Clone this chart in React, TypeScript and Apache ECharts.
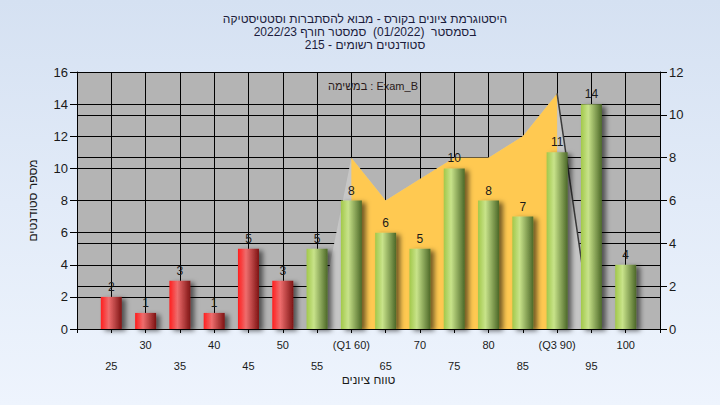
import React, { useEffect, useRef } from "react";
import * as echarts from "echarts";

// ---- data ----
const grades: number[] = [25, 30, 35, 40, 45, 50, 55, 60, 65, 70, 75, 80, 85, 90, 95, 100];
const gradeLabels: string[] = ["25", "30", "35", "40", "45", "50", "55", "(Q1 60)", "65", "70", "75", "80", "85", "(Q3 90)", "95", "100"];
const studentCounts: number[] = [2, 1, 3, 1, 5, 3, 5, 8, 6, 5, 10, 8, 7, 11, 14, 4];
// quartile band (right axis)
const bandValues: (number | null)[] = [null, null, null, null, null, null, null, 8, 6, 7, 8, 8, 9, 11, null, null];
const bandShadowValues: (number | null)[] = [null, null, null, null, null, null, 0, 8, 6, 7, 8, 8, 9, 11, 0, null];
const bandEdgeValues: (number | null)[] = [null, null, null, null, null, null, null, null, null, null, null, null, null, 11, 0, null];
const passGrade = 55;
const leftTicks = { min: 0, max: 16, interval: 2 };
const rightTicks = { min: 0, max: 12, interval: 2 };

const titleLines: string[] = [
  "היסטוגרמת ציונים בקורס - מבוא להסתברות וסטטיסטיקה",
  "בסמסטר  (01/2022)  סמסטר חורף 2022/23",
  "סטודנטים רשומים - 215",
];
const legendText = "במשימה : Exam_B";
const yAxisName = "מספר סטודנטים";
const xAxisName = "טווח ציונים";

const FONT = "'Liberation Sans', Arial, sans-serif";

export default function App() {
  const ref = useRef<HTMLDivElement>(null);
  useEffect(() => {
    if (!ref.current) return;
    document.body.style.margin = "0";
    const chart = echarts.init(ref.current, undefined, { renderer: "svg" });

    const cats = ["", ...grades.map(String), ""];
    const labelByCat: Record<string, string> = {};
    grades.forEach((g, i) => (labelByCat[String(g)] = gradeLabels[i]));
    const pad = (arr: (number | null)[]) => [null, ...arr, null];

    const red = new echarts.graphic.LinearGradient(0, 0, 1, 0, [
      { offset: 0, color: "#ff1e1e" },
      { offset: 0.38, color: "#ee6d6d" },
      { offset: 1, color: "#7e1414" },
    ]);
    const green = new echarts.graphic.LinearGradient(0, 0, 1, 0, [
      { offset: 0, color: "#a2c84a" },
      { offset: 0.35, color: "#c8e38a" },
      { offset: 1, color: "#4c6828" },
    ]);

    const barData: any[] = [null];
    grades.forEach((g, i) => {
      barData.push({
        value: studentCounts[i],
        itemStyle: { color: g < passGrade ? red : green },
      });
    });
    barData.push(null);

    chart.setOption({
      animation: false,
      textStyle: { fontFamily: FONT },
      title: [
        {
          text: titleLines.join("\n"),
          left: 360,
          top: 7,
          textAlign: "center",
          textStyle: { fontSize: 12, fontWeight: "normal", color: "#1c1c3c", lineHeight: 13, fontFamily: FONT },
        },
        {
          text: legendText,
          left: 368,
          top: 75,
          textAlign: "center",
          textStyle: { fontSize: 11, fontWeight: "normal", color: "#2a1a1a", fontFamily: FONT },
        },
      ],
      grid: {
        left: 77,
        right: 60,
        top: 72,
        bottom: 76,
        show: true,
        backgroundColor: "#b4b4b4",
        borderWidth: 0,
      },
      xAxis: {
        type: "category",
        data: cats,
        boundaryGap: false,
        name: xAxisName,
        nameLocation: "middle",
        nameGap: 45,
        nameMoveOverlap: false,
        nameTextStyle: { fontSize: 12, color: "#1a1a1a" },
        axisLine: { lineStyle: { color: "#000", width: 1 } },
        axisTick: { show: true, length: 4, lineStyle: { color: "#000" }, interval: 0 },
        axisLabel: {
          interval: 0,
          margin: 5,
          fontSize: 11,
          lineHeight: 21,
          color: "#1a1a1a",
          formatter: (v: string, idx: number) => {
            if (!v) return "";
            const t = labelByCat[v];
            return idx % 2 === 1 ? "\n" + t : t;
          },
        },
        splitLine: { show: true, interval: 0, lineStyle: { color: "#000", width: 1 } },
      },
      yAxis: [
        {
          type: "value",
          min: leftTicks.min,
          max: leftTicks.max,
          interval: leftTicks.interval,
          name: yAxisName,
          nameLocation: "middle",
          nameRotate: 90,
          nameGap: 38,
          nameTextStyle: { fontSize: 12, color: "#1a1a1a" },
          axisLine: { show: true, lineStyle: { color: "#000" } },
          axisTick: { show: true, length: 7, lineStyle: { color: "#000" } },
          axisLabel: { fontSize: 13, color: "#1a1a1a", margin: 9 },
          splitLine: { show: true, lineStyle: { color: "#000", width: 1 } },
        },
        {
          type: "value",
          min: rightTicks.min,
          max: rightTicks.max,
          interval: rightTicks.interval,
          position: "right",
          axisLine: { show: true, lineStyle: { color: "#000" } },
          axisTick: { show: true, length: 7, lineStyle: { color: "#000" } },
          axisLabel: { fontSize: 13, color: "#1a1a1a", margin: 9 },
          splitLine: { show: true, lineStyle: { color: "#000", width: 1 } },
        },
      ],
      series: [
        {
          type: "line",
          yAxisIndex: 1,
          data: pad(bandShadowValues),
          symbol: "none",
          lineStyle: { width: 0 },
          areaStyle: { color: "#c6c6c6", opacity: 1 },
          z: 1,
          silent: true,
        },
        {
          type: "line",
          yAxisIndex: 1,
          data: pad(bandValues),
          symbol: "none",
          lineStyle: { width: 0 },
          areaStyle: { color: "#ffc951", opacity: 1 },
          z: 2,
          silent: true,
        },
        {
          type: "line",
          yAxisIndex: 1,
          data: pad(bandEdgeValues),
          symbol: "none",
          lineStyle: { width: 1.5, color: "#3a3a3a" },
          z: 3,
          silent: true,
        },
        {
          type: "bar",
          yAxisIndex: 0,
          data: barData,
          barWidth: 21,
          z: 4,
          itemStyle: {
            shadowColor: "rgba(0,0,0,0.55)",
            shadowBlur: 5,
            shadowOffsetX: 4,
            shadowOffsetY: 2,
          },
          label: {
            show: true,
            position: "top",
            distance: 4,
            fontSize: 12,
            color: "#1a1a1a",
          },
        },
      ],
    });
    return () => chart.dispose();
  }, []);
  return (
    <div
      ref={ref}
      style={{
        position: "absolute",
        left: 0,
        top: 0,
        width: 720,
        height: 405,
        background: "linear-gradient(180deg, #d5e1f2 0%, #e2ebf8 50%, #eef4fd 100%)",
      }}
    />
  );
}
